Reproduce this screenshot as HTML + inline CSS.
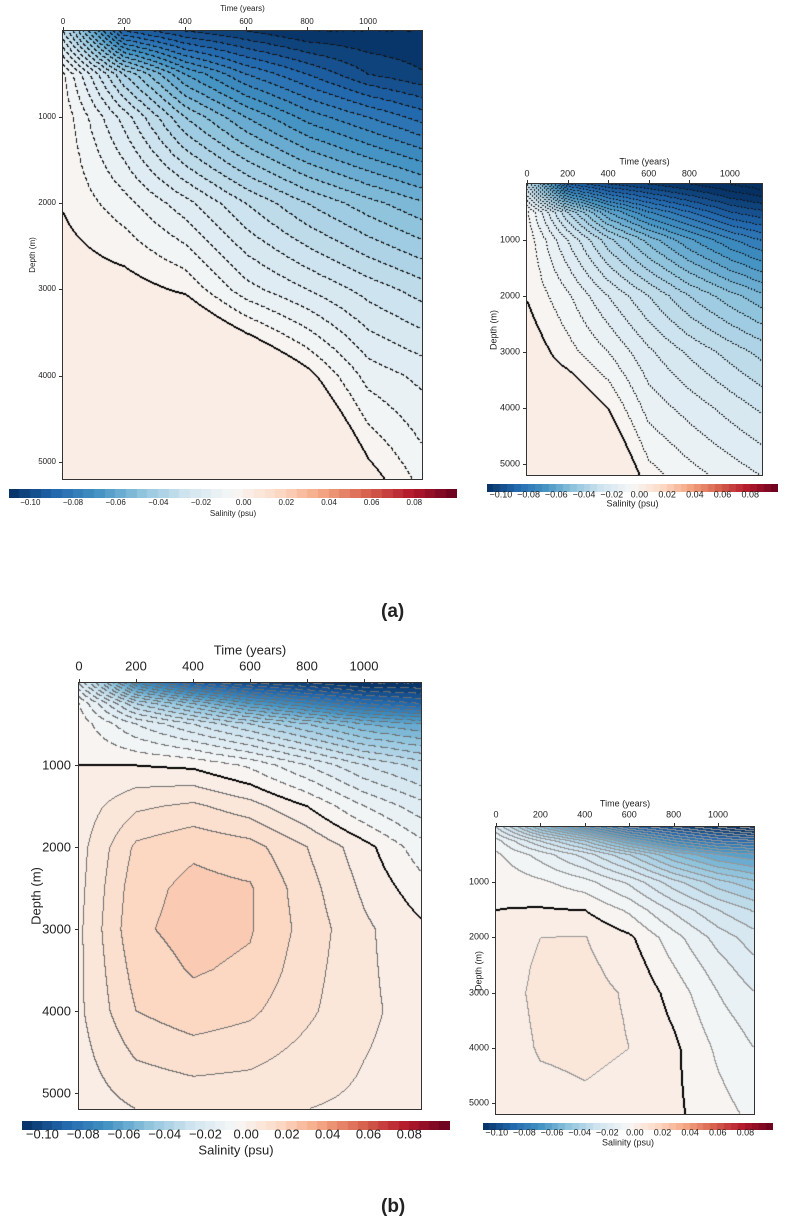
<!DOCTYPE html>
<html><head><meta charset="utf-8">
<style>
body{margin:0;background:#fff;width:788px;height:1227px;position:relative;overflow:hidden;font-family:"Liberation Sans",sans-serif;color:#222}
.abs{position:absolute}
canvas{position:absolute}
.t{position:absolute;white-space:nowrap;line-height:1}
</style></head>
<body>
<div class="t" style="left:381px;top:602px;font-size:19px;font-weight:bold">(a)</div>
<div class="t" style="left:381px;top:1197px;font-size:19px;font-weight:bold">(b)</div>
<div id="root"></div>
<script>
// ---- data ----
const timeTicks=[0,200,400,600,800,1000];
const depthTicks=[1000,2000,3000,4000,5000];
const cbarTicks=[-0.10,-0.08,-0.06,-0.04,-0.02,0.00,0.02,0.04,0.06,0.08];
const gridTimes=[0,200,400,600,800,1000,1200];
const depthsA=[0,500,1000,2000,3000,4000,5200];
const valsAL=[
[-0.03,-0.09,-0.10,-0.105,-0.11,-0.11,-0.11],
[-0.004,-0.04,-0.065,-0.08,-0.09,-0.10,-0.105],
[-0.0015,-0.022,-0.045,-0.06,-0.072,-0.08,-0.088],
[-0.0005,-0.008,-0.018,-0.03,-0.04,-0.048,-0.055],
[0.004,0.003,-0.001,-0.013,-0.02,-0.027,-0.033],
[0.004,0.01,0.02,0.013,0.0022,-0.012,-0.017],
[0.004,0.01,0.03,0.03,0.02,0.003,-0.008]];
const valsAR=[
[-0.03,-0.09,-0.10,-0.105,-0.11,-0.115,-0.12],
[-0.004,-0.035,-0.06,-0.075,-0.085,-0.095,-0.10],
[-0.0015,-0.02,-0.038,-0.052,-0.064,-0.074,-0.082],
[-0.0004,-0.009,-0.02,-0.03,-0.04,-0.048,-0.055],
[0.004,-0.003,-0.01,-0.019,-0.026,-0.032,-0.038],
[0.004,0.007,-0.0001,-0.012,-0.017,-0.022,-0.027],
[0.004,0.015,0.01,-0.003,-0.008,-0.012,-0.016]];
const depthsB=[0,250,500,1000,1500,2000,2500,3000,3500,4000,5200];
const valsBL=[
[-0.02,-0.07,-0.09,-0.10,-0.105,-0.11,-0.11],
[-0.005,-0.035,-0.05,-0.065,-0.075,-0.085,-0.09],
[-0.002,-0.015,-0.025,-0.035,-0.045,-0.055,-0.06],
[0.0,0.0,-0.001,-0.006,-0.015,-0.025,-0.032],
[0.002,0.009,0.011,0.007,0.0,-0.01,-0.018],
[0.003,0.016,0.019,0.017,0.01,0.002,-0.008],
[0.0035,0.018,0.0215,0.0205,0.012,0.004,-0.003],
[0.004,0.019,0.022,0.0205,0.013,0.006,0.001],
[0.004,0.017,0.0205,0.019,0.012,0.006,0.002],
[0.004,0.015,0.018,0.016,0.011,0.006,0.003],
[0.002,0.005,0.006,0.006,0.005,0.004,0.003]];
const valsBR=[
[-0.02,-0.05,-0.07,-0.09,-0.10,-0.11,-0.12],
[-0.008,-0.025,-0.04,-0.06,-0.075,-0.085,-0.09],
[-0.004,-0.012,-0.022,-0.035,-0.05,-0.06,-0.065],
[-0.001,-0.004,-0.008,-0.016,-0.028,-0.038,-0.045],
[0.0,0.0005,0.0,-0.006,-0.016,-0.025,-0.032],
[0.002,0.005,0.0052,0.001,-0.008,-0.017,-0.024],
[0.0025,0.0057,0.006,0.003,-0.005,-0.013,-0.02],
[0.003,0.006,0.0065,0.0045,-0.002,-0.01,-0.016],
[0.0025,0.0058,0.0063,0.0048,-0.0005,-0.008,-0.013],
[0.002,0.0055,0.006,0.005,0.001,-0.006,-0.011],
[0.001,0.003,0.004,0.003,0.001,-0.003,-0.007]];

const panels=[
 {name:'a-left',x:63,y:31,w:359,h:448,tmax:1177,depths:depthsA,vals:valsAL,clamp:0.0045,fs:8,ttl:9,tly:22,dlx:58,dtx:33,line:'#111',dash:[5,3],cb:{x:9,y:489,w:448,h:9,fs:8,ly:503,ty:514}},
 {name:'a-right',x:527,y:184,w:235,h:291,tmax:1158,depths:depthsA,vals:valsAR,clamp:0.0045,fs:9,ttl:162,tly:174,dlx:522,dtx:494,line:'#111',dash:[2,2],cb:{x:487,y:484,w:291,h:8,fs:9,ly:495,ty:504}},
 {name:'b-left',x:79,y:683,w:342,h:426,tmax:1200,depths:depthsB,vals:valsBL,clamp:1,fs:13,ttl:650,tly:666,dlx:73,dtx:36,line:'#777',dash:[9,4],cb:{x:22,y:1121,w:428,h:9,fs:13,ly:1134,ty:1150}},
 {name:'b-right',x:496,y:827,w:258,h:287,tmax:1162,depths:depthsB,vals:valsBR,clamp:1,fs:9,ttl:804,tly:815,dlx:491,dtx:479,line:'#999',dash:null,cb:{x:483,y:1123,w:290,h:7,fs:9,ly:1133,ty:1143}}
];
const VMIN=-0.11,VMAX=0.10,STEP=0.005;
// RdBu_r
const stops=[[5,48,97],[33,102,172],[67,147,195],[146,197,222],[209,229,240],[247,247,247],[253,219,199],[244,165,130],[214,96,77],[178,24,43],[103,0,31]];
function cmap(f){f=Math.max(0,Math.min(1,f));const p=f*10,i=Math.min(9,Math.floor(p)),r=p-i;return stops[i].map((c,j)=>Math.round(c+(stops[i+1][j]-c)*r));}
function colorFor(v){const k=Math.floor(v/STEP);const mid=(k+0.5)*STEP;return cmap((mid-VMIN)/(VMAX-VMIN));}
function interp(arr,v){let i=0;while(i<arr.length-2&&v>arr[i+1])i++;return [i,Math.max(0,Math.min(1,(v-arr[i])/(arr[i+1]-arr[i])))];}
function field(P,t,z){const [i,a]=interp(gridTimes,t),[j,b]=interp(P.depths,z);const V=P.vals;
 const v=V[j][i]*(1-a)*(1-b)+V[j][i+1]*a*(1-b)+V[j+1][i]*(1-a)*b+V[j+1][i+1]*a*b;
 return Math.min(v,P.clamp);}
const root=document.getElementById('root');
function txt(s,x,y,fs,align,rot,name){const d=document.createElement('div');d.className='t';d.textContent=s;d.style.fontSize=fs+'px';
 
 
 let tr=align==='c'?'translate(-50%,-50%)':align==='r'?'translate(-100%,-50%)':'translate(0,-50%)';if(rot)tr='translate(-50%,-50%) rotate(-90deg)';
 d.style.left=x+'px';d.style.top=y+'px';d.style.transform=tr;root.appendChild(d);return d;}
function line(x,y,w,h,name){const d=document.createElement('div');d.className='abs';d.style.cssText+=`left:${x}px;top:${y}px;width:${w}px;height:${h}px;background:#333`;
 
 
 root.appendChild(d);}
panels.forEach(P=>{
 const c=document.createElement('canvas');c.width=P.w;c.height=P.h;c.style.left=P.x+'px';c.style.top=P.y+'px';
 
 
 root.appendChild(c);
 const ctx=c.getContext('2d');const img=ctx.createImageData(P.w,P.h);
 const K=new Int16Array(P.w*P.h),Vv=new Float32Array(P.w*P.h);
 for(let y=0;y<P.h;y++)for(let x=0;x<P.w;x++){const v=field(P,x/P.w*P.tmax,y/P.h*5200);Vv[y*P.w+x]=v;K[y*P.w+x]=Math.floor(v/STEP);}
 const lc=P.line==='#111'?[20,20,20]:(P.line==='#777'?[110,110,110]:[150,150,150]);
 for(let y=0;y<P.h;y++)for(let x=0;x<P.w;x++){const i=y*P.w+x;let col=colorFor(Vv[i]);
  const k=K[i];let edge=false,zero=false;
  for(const [dx,dy] of [[1,0],[0,1]]){const xx=x+dx,yy=y+dy;if(xx<P.w&&yy<P.h){const k2=K[yy*P.w+xx];if(k2!==k){edge=true;if(Math.min(k,k2)===-1&&Math.max(k,k2)===0)zero=true;}}}
  if(!zero){for(const [dx,dy] of [[-1,0],[0,-1]]){const xx=x+dx,yy=y+dy;if(xx>=0&&yy>=0){const k2=K[yy*P.w+xx];if(Math.min(k,k2)===-1&&Math.max(k,k2)===0)zero=true;}}}
  if(zero)col=[0,0,0];
  else if(edge){let on=true;if(P.dash&&k<0){const per=P.dash[0]+P.dash[1];on=((x+y)%per)<P.dash[0];}if(on)col=lc;}
  img.data[i*4]=col[0];img.data[i*4+1]=col[1];img.data[i*4+2]=col[2];img.data[i*4+3]=255;}
 ctx.putImageData(img,0,0);
 const b=document.createElement('div');b.className='abs';b.style.cssText=`left:${P.x-1}px;top:${P.y-1}px;width:${P.w}px;height:${P.h}px;border:1px solid #333`;
 
 
 root.appendChild(b);
 timeTicks.forEach(t=>{const x=P.x+t/P.tmax*P.w;line(x,P.y-4,1,4,'time-tick');txt(String(t),x,P.tly,P.fs,'c',false,'time-tick-label');});
 txt('Time (years)',P.x+P.w/2,P.ttl,P.fs,'c',false,'time-axis-title');
 depthTicks.forEach(d=>{const y=P.y+d/5200*P.h;line(P.x-4,y,4,1,'depth-tick');txt(String(d),P.dlx-2,y,P.fs,'r',false,'depth-tick-label');});
 txt('Depth (m)',P.dtx,P.y+P.h/2,P.fs,'c',true,'depth-axis-title');
 const C=P.cb;const cc=document.createElement('canvas');cc.width=C.w;cc.height=C.h;cc.style.left=C.x+'px';cc.style.top=C.y+'px';
 
 
 root.appendChild(cc);const g=cc.getContext('2d');
 const n=Math.round((VMAX-VMIN)/STEP);
 for(let i=0;i<n;i++){const v=VMIN+(i+0.5)*STEP;const col=cmap((v-VMIN)/(VMAX-VMIN));g.fillStyle=`rgb(${col})`;g.fillRect(Math.floor(i*C.w/n),0,Math.ceil(C.w/n)+1,C.h);}
 cbarTicks.forEach(v=>{const x=C.x+(v-VMIN)/(VMAX-VMIN)*C.w;txt((v<0?'\u2212':'')+Math.abs(v).toFixed(2),x,C.ly,C.fs,'c',false,'colorbar-tick-label');});
 txt('Salinity (psu)',C.x+C.w/2,C.ty,C.fs,'c',false,'colorbar-title');
});
</script>
</body></html>
